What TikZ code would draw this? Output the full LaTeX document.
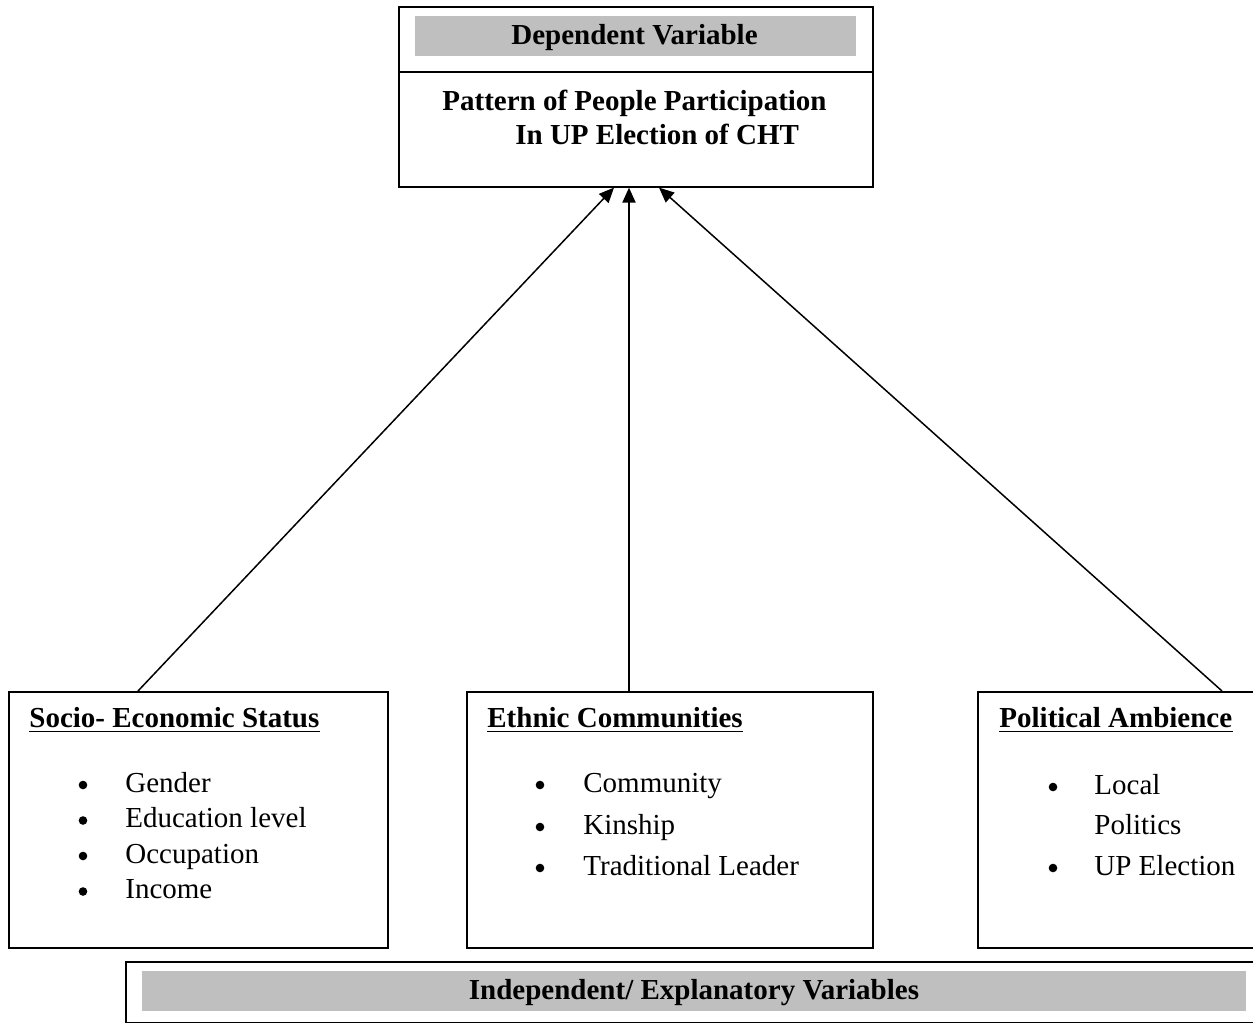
\documentclass[tikz,border=0pt]{standalone}
\usepackage{fontspec}
\setmainfont{Liberation Serif}
\usetikzlibrary{arrows.meta}
\definecolor{barbg}{RGB}{191,191,191}
\begin{document}
\begin{tikzpicture}[x=0.5pt,y=-0.5pt,
  box/.style={draw, line width=0.8pt, inner sep=0, anchor=north west},
  bar/.style={fill=barbg, inner sep=0, anchor=north west, minimum height=20pt},
  txt/.style={inner sep=0, anchor=base west, font=\fontsize{14.5}{17}\selectfont},
  btxt/.style={inner sep=0, anchor=base west, font=\fontsize{14.5}{17}\selectfont\bfseries},
  dot/.style={circle, fill, inner sep=0, minimum size=4.3pt},
  arr/.style={line width=0.75pt, -{Triangle[length=7.5pt,width=6.5pt]}},
  uline/.style={line width=0.9pt}]
\useasboundingbox (0,0) rectangle (1253,1023);

% top box
\node[box, minimum width=237pt, minimum height=90pt] (top) at (398,6) {};
\draw[line width=0.8pt] (398,72) -- (872,72);
\node[bar, minimum width=220.5pt] (depbar) at (415,16) {};
\node[btxt, anchor=base] (deptext) at (634.5,44) {Dependent Variable};
\node[btxt] (pat1) at (442,110) {Pattern of People Participation};
\node[btxt] (pat2) at (515,144) {In UP Election of CHT};

% lower boxes
\node[box, minimum width=189.5pt, minimum height=128pt] (ses) at (8,691) {};
\node[box, minimum width=203pt, minimum height=128pt] (eth) at (466,691) {};
\node[box, minimum width=142.5pt, minimum height=128pt] (pol) at (977,691) {};

% arrows
\draw[arr] ([xshift=65pt]ses.north west) -- ([xshift=108pt]top.south west);
\draw[arr, line width=1pt] ([xshift=81.5pt]eth.north west) -- ([xshift=115.5pt]top.south west);
\draw[arr] ([xshift=122.5pt]pol.north west) -- ([xshift=130.5pt]top.south west);

% Socio-economic
\node[btxt] (sestitle) at (29,727) {Socio- Economic Status};
\draw[uline] ([yshift=-2.2pt]sestitle.base west) -- ([yshift=-2.2pt]sestitle.base east);
\node[dot] (sb1) at (83,785) {};
\node[txt] (s1) at (125,792) {Gender};
\node[dot] (sb2) at (83,820.5) {};
\node[txt] (s2) at (125,827.5) {Education level};
\node[dot] (sb3) at (83,856) {};
\node[txt] (s3) at (125,863) {Occupation};
\node[dot] (sb4) at (83,891.5) {};
\node[txt] (s4) at (125,898.5) {Income};

% Ethnic
\node[btxt] (ethtitle) at (487,727) {Ethnic Communities};
\draw[uline] ([yshift=-2.2pt]ethtitle.base west) -- ([yshift=-2.2pt]ethtitle.base east);
\node[dot] (eb1) at (540,785) {};
\node[txt] (e1) at (583,792) {Community};
\node[dot] (eb2) at (540,827) {};
\node[txt] (e2) at (583,834) {Kinship};
\node[dot] (eb3) at (540,868) {};
\node[txt] (e3) at (583,875) {Traditional Leader};

% Political
\node[btxt] (poltitle) at (999,727) {Political Ambience};
\draw[uline] ([yshift=-2.2pt]poltitle.base west) -- ([yshift=-2.2pt]poltitle.base east);
\node[dot] (pb1) at (1053,787) {};
\node[txt] (p1) at (1094,794) {Local};
\node[txt] (p1b) at (1094,834) {Politics};
\node[dot] (pb2) at (1053,868) {};
\node[txt] (p2) at (1094,875) {UP Election};

% bottom bar
\node[box, minimum width=568.5pt, minimum height=30.25pt] (indbox) at (125,961) {};
\node[bar, minimum width=552pt] (indbar) at (142,971) {};
\node[btxt, anchor=base] (indtext) at (694,999) {Independent/ Explanatory Variables};
\end{tikzpicture}
\end{document}
